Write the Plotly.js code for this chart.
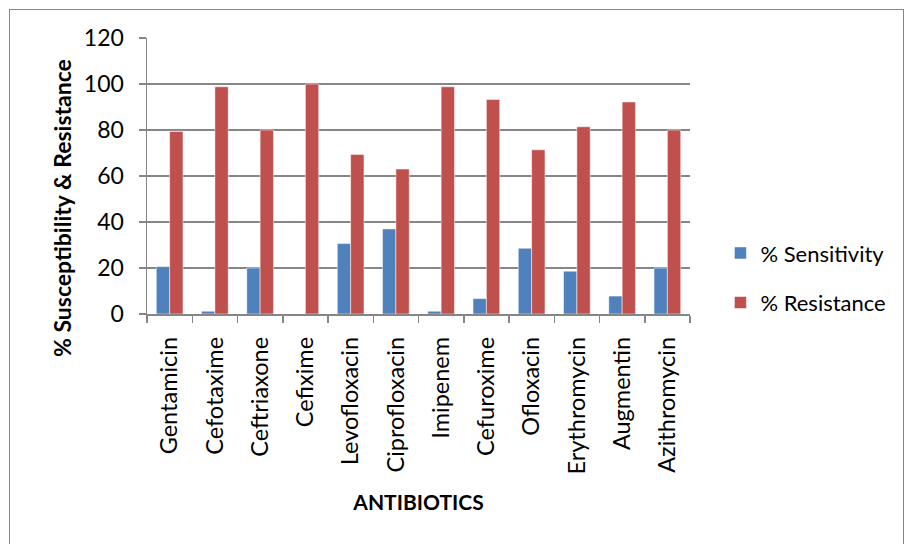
<!DOCTYPE html>
<html>
<head>
<meta charset="utf-8">
<script src="https://cdn.plot.ly/plotly-3.0.1.min.js"></script>
<style>
  html, body { margin: 0; padding: 0; background: #fff; }
  #wrap { position: relative; width: 909px; height: 544px; }
  #chart { width: 909px; height: 544px; }
  #frame { position: absolute; left: 9px; top: 9px; width: 895px; height: 540px; border: 1px solid #868686; pointer-events: none; box-sizing: border-box; }
</style>
</head>
<body>
<div id="wrap">
  <div id="chart"></div>
  <div id="frame"></div>
</div>
<script>
const categories = ["Gentamicin", "Cefotaxime", "Ceftriaxone", "Cefixime", "Levofloxacin", "Ciprofloxacin", "Imipenem", "Cefuroxime", "Ofloxacin", "Erythromycin", "Augmentin", "Azithromycin"];
const sensitivity = [20.6, 1.2, 20, 0, 30.6, 37, 1.2, 6.7, 28.6, 18.6, 7.8, 20];
const resistance = [79.4, 98.8, 80, 100, 69.4, 63, 98.8, 93.3, 71.4, 81.4, 92.2, 80];
const tickVals = [0, 20, 40, 60, 80, 100, 120];

const FONT = "Lato, 'Open Sans', sans-serif";

const traces = [
  {
    type: "bar", name: "% Sensitivity", x: categories, y: sensitivity,
    marker: { color: "#4F81BD", line: { color: "#ffffff", width: 0.5 } },
    legendgroup: "a"
  },
  {
    type: "bar", name: "% Resistance", x: categories, y: resistance,
    marker: { color: "#C0504D", line: { color: "#ffffff", width: 0.5 } },
    legendgroup: "b"
  }
];

const layout = {
  width: 909, height: 544,
  margin: { l: 147, r: 219, t: 38, b: 230 },
  paper_bgcolor: "#ffffff", plot_bgcolor: "#ffffff",
  font: { family: FONT, size: 22, color: "#000000" },
  barmode: "group",
  bargap: 0.41, bargroupgap: 0,
  showlegend: true,
  legend: {
    x: 1.056, xanchor: "left", y: 0.13, yanchor: "middle",
    font: { family: FONT, size: 22, color: "#000" },
    traceorder: "grouped", tracegroupgap: 18,
    itemwidth: 30,
    bgcolor: "rgba(0,0,0,0)"
  },
  xaxis: {
    type: "category",
    tickangle: -90,
    ticks: "outside", ticklen: 7, tickcolor: "#868686", tickwidth: 1.5,
    tickson: "boundaries",
    showline: true, linecolor: "#868686", linewidth: 1.5,
    showgrid: false,
    tickfont: { family: FONT, size: 23.5, color: "#000" },
    ticklabelstandoff: 12,
    title: { text: "ANTIBIOTICS", font: { family: FONT, size: 21, color: "#000", weight: "bold" }, standoff: 22 }
  },
  yaxis: {
    range: [0, 120],
    tickvals: tickVals,
    ticks: "outside", ticklen: 7, tickcolor: "#868686", tickwidth: 1.5,
    showline: true, linecolor: "#868686", linewidth: 1.5,
    showgrid: true, gridcolor: "#868686", gridwidth: 1.5,
    zeroline: false,
    tickfont: { family: FONT, size: 23, color: "#000" },
    ticklabelstandoff: 10
  },
  annotations: [
    {
      text: "<b>% Susceptibility & Resistance</b>",
      xref: "paper", yref: "paper",
      x: (62 - 147) / 543, y: (314 - 208) / 276,
      xanchor: "center", yanchor: "middle",
      textangle: -90, showarrow: false,
      font: { family: FONT, size: 23, color: "#000" }
    }
  ]
};

Plotly.newPlot("chart", traces, layout, { displayModeBar: false, staticPlot: true });
</script>
</body>
</html>
